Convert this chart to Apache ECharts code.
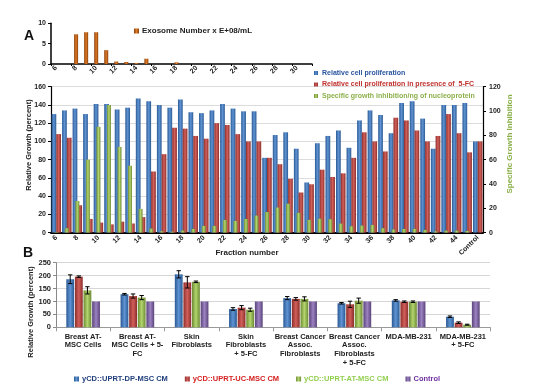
<!DOCTYPE html>
<html><head><meta charset="utf-8">
<script src="https://cdn.jsdelivr.net/npm/echarts@6/dist/echarts.min.js"></script>
<style>html,body{margin:0;padding:0;background:#fff}#c{width:558px;height:389px}</style>
</head><body><div id="c"></div><script>
// ---- Panel A (top): exosome numbers ----
const exoFractions = ['6','7','8','9','10','11','12','13','14','15','16','17','18','19','20','21','22','23','24','25','26','27','28','29','30','31'];
const exoNumber = [0,0,7.3,7.8,7.8,3.4,0.6,0.5,0.25,1.3,0,0,0.4,0,0,0,0,0,0,0,0,0,0,0,0,0];

// ---- Panel A (main) ----
const fractions = ['6','7','8','9','10','11','12','13','14','15','16','17','18','19','20','21','22','23','24','25','26','27','28','29','30','31','32','33','34','35','36','37','38','39','40','41','42','43','44','45','Control'];
const relProlif = [130,134,136,130,141,141,135,137,147,144,140,137,146,132,131,134,141,136,133,133,82,107,110,92,55,98,106,112,93,123,134,129,109,142,144,125,92,140,140,142,100];
const relProlif5FC = [108,104,30,15,11,9,12,10,17,67,86,115,114,106,103,120,118,108,100,100,82,75,59,44,53,69,61,65,82,110,100,89,126,123,112,100,106,130,109,88,100];
const specInhib = [0.4,3.6,26,60,87,105,70.5,55,19.5,3.3,1.1,0.8,1.7,3,5.5,5.5,10.4,9.6,11.2,14,16.9,20.6,23.8,16.3,10.5,11.4,11,7.4,5.2,5.8,6.3,3.6,2.5,3,3,2.2,1,1.6,1.6,1.4,0];

// ---- Panel B ----
const cellTypes = ['Breast AT-\nMSC Cells','Breast AT-\nMSC Cells + 5-\nFC','Skin\nFibroblasts','Skin\nFibroblasts\n+ 5-FC','Breast Cancer\nAssoc.\nFibroblasts','Breast Cancer\nAssoc.\nFibroblasts\n+ 5-FC','MDA-MB-231','MDA-MB-231\n+ 5-FC'];
const dpMSC = [186,128,205,71,113,93,104,41];
const ucMSC = [196,121,174,76,110,89,99,18];
const atMSC = [143,115,176,68,110,103,99,10];
const ctrl = [100,100,100,100,100,100,100,100];
const errDP = [17,3,14,5,6,3,3,3];
const errUC = [3,8,22,8,5,12,3,3];
const errAT = [14,8,3,6,8,10,3,2];

const FONT = '"Liberation Sans", Arial, sans-serif';
function grad(edge, mid){
  return {type:'linear',x:0,y:0,x2:1,y2:0,colorStops:[{offset:0,color:edge},{offset:0.5,color:mid},{offset:1,color:edge}]};
}
const cBlue = grad('#2b5a94','#5f93d3');
const cRed = grad('#8c2e2b','#d25f5a');
const cGreen = grad('#6d8a33','#b3d56e');
const cPurple = grad('#5a4479','#9c82c2');
const cOrange = grad('#8a400c','#dd7a26');

const lbl = (size)=>({fontFamily:FONT,fontWeight:'bold',fontSize:size,color:'#222'});

const errData = [];
[[dpMSC,errDP],[ucMSC,errUC],[atMSC,errAT]].forEach((pair,s)=>{
  pair[0].forEach((v,i)=>errData.push([i,v,pair[1][i],s]));
});
function errRender(params, api){
  const i = api.value(0), v = api.value(1), e = api.value(2), s = api.value(3);
  const catW = api.size([1,0])[0];
  const groupW = catW*0.62, w = groupW/4.3;
  const base = api.coord([i, v]);
  const x = base[0] - groupW/2 + w/2 + s*w*1.1;
  const yt = api.coord([i, v+e])[1], yb = api.coord([i, v-e])[1];
  const cap = 2.2, st = {stroke:'#000', lineWidth:1};
  return {type:'group', children:[
    {type:'line', shape:{x1:x,y1:yt,x2:x,y2:yb}, style:st},
    {type:'line', shape:{x1:x-cap,y1:yt,x2:x+cap,y2:yt}, style:st},
    {type:'line', shape:{x1:x-cap,y1:yb,x2:x+cap,y2:yb}, style:st}
  ]};
}

const chart = echarts.init(document.getElementById('c'), null, {renderer:'canvas'});
const option = {
  animation:false,
  backgroundColor:'#fff',
  grid:[
    {left:51, top:23.3, width:261, height:40.7},
    {left:51, top:86.7, width:432, height:145.9},
    {left:56, top:262.7, width:434, height:64.6}
  ],
  legend:[
    {data:['Exosome Number x E+08/mL'], left:134, top:27, itemWidth:5, itemHeight:5, icon:'rect', padding:0,
     textStyle:{fontFamily:FONT,fontWeight:'bold',fontSize:8,color:'#222',padding:[0,0,0,-2]}},
    {data:[
      {name:'Relative cell proliferation', textStyle:{color:'#2a55a0'}},
      {name:'Relative cell proliferation in presence of  5-FC', textStyle:{color:'#c0302c'}},
      {name:'Specific growth inhibition/ng of nucleoprotein', textStyle:{color:'#8cb04a'}}
     ], orient:'vertical', left:314, top:69.5, itemWidth:4, itemHeight:4, itemGap:4.5, icon:'rect', padding:0,
     textStyle:{fontFamily:FONT,fontWeight:'bold',fontSize:7,padding:[0,0,0,-1]}},
    {data:[
      {name:'yCD::UPRT-DP-MSC CM', textStyle:{color:'#1f3e7c'}},
      {name:'yCD::UPRT-UC-MSC CM', textStyle:{color:'#d42020'}},
      {name:'yCD::UPRT-AT-MSC CM', textStyle:{color:'#92d050'}},
      {name:'Control', textStyle:{color:'#7030a0'}}
     ], left:74, top:375, itemWidth:5, itemHeight:5, itemGap:17, icon:'rect', padding:0,
     textStyle:{fontFamily:FONT,fontWeight:'bold',fontSize:7.5,padding:[0,0,0,-2]}}
  ],
  xAxis:[
    {type:'category', gridIndex:0, data:exoFractions,
     axisLine:{lineStyle:{color:'#000',width:1.5}}, axisTick:{show:true,length:2,lineStyle:{color:'#000'}},
     axisLabel:Object.assign(lbl(7),{rotate:45,interval:1,margin:3})},
    {type:'category', gridIndex:1, data:fractions,
     axisLine:{lineStyle:{color:'#000',width:2}}, axisTick:{show:false},
     axisLabel:Object.assign(lbl(7),{rotate:45,interval:1,margin:4})},
    {type:'category', gridIndex:1, data:fractions, show:false},
    {type:'category', gridIndex:2, data:cellTypes,
     axisLine:{lineStyle:{color:'#999'}}, axisTick:{show:true,length:4,lineStyle:{color:'#999'}},
     axisLabel:Object.assign(lbl(7.5),{interval:0,margin:5,lineHeight:8.7})}
  ],
  yAxis:[
    {type:'value', gridIndex:0, min:0, max:10, interval:5,
     axisLine:{show:true,lineStyle:{color:'#000',width:1.5}}, axisTick:{show:true,length:3,lineStyle:{color:'#000'}},
     splitLine:{show:false}, axisLabel:Object.assign(lbl(7),{margin:5})},
    {type:'value', gridIndex:1, min:0, max:160, interval:20,
     axisLine:{show:true,lineStyle:{color:'#000',width:1.2}}, axisTick:{show:true,length:3,lineStyle:{color:'#000'}},
     splitLine:{lineStyle:{color:'#dcdcdc'}}, axisLabel:Object.assign(lbl(7),{margin:5})},
    {type:'value', gridIndex:1, position:'right', min:0, max:120, interval:20,
     axisLine:{show:true,lineStyle:{color:'#000',width:1.2}}, axisTick:{show:true,length:3,lineStyle:{color:'#000'}},
     splitLine:{show:false}, axisLabel:Object.assign(lbl(7),{margin:6})},
    {type:'value', gridIndex:2, min:0, max:250, interval:50,
     axisLine:{show:true,lineStyle:{color:'#888'}}, axisTick:{show:true,length:3,lineStyle:{color:'#888'}},
     splitLine:{lineStyle:{color:'#d6d6d6'}}, axisLabel:Object.assign(lbl(7.5),{margin:5})}
  ],
  graphic:[
    {type:'text', left:24, top:29, style:{text:'A', font:'bold 14px '+FONT, fill:'#111'}},
    {type:'text', left:23, top:246, style:{text:'B', font:'bold 14px '+FONT, fill:'#111'}},
    {type:'text', x:247, y:253, style:{text:'Fraction number', font:'bold 8px '+FONT, fill:'#222', textAlign:'center', textVerticalAlign:'middle'}},
    {type:'text', x:29, y:145, rotation:Math.PI/2, style:{text:'Relative Growth (percent)', font:'bold 7.5px '+FONT, fill:'#222', textAlign:'center', textVerticalAlign:'middle'}},
    {type:'text', x:510, y:144, rotation:Math.PI/2, style:{text:'Specific Growth Inhibition', font:'bold 8px '+FONT, fill:'#8cb04a', textAlign:'center', textVerticalAlign:'middle'}},
    {type:'text', x:30.5, y:312, rotation:Math.PI/2, style:{text:'Relative Growth (percent)', font:'bold 7.5px '+FONT, fill:'#222', textAlign:'center', textVerticalAlign:'middle'}}
  ],
  series:[
    {name:'Exosome Number x E+08/mL', type:'bar', xAxisIndex:0, yAxisIndex:0, data:exoNumber, barWidth:'40%', itemStyle:{color:cOrange}},
    {name:'Relative cell proliferation', type:'bar', xAxisIndex:1, yAxisIndex:1, data:relProlif, barCategoryGap:'10%', barGap:'0%', itemStyle:{color:cBlue}},
    {name:'Relative cell proliferation in presence of  5-FC', type:'bar', xAxisIndex:1, yAxisIndex:1, data:relProlif5FC, itemStyle:{color:cRed}},
    {name:'Specific growth inhibition/ng of nucleoprotein', type:'bar', xAxisIndex:2, yAxisIndex:2, data:specInhib, barWidth:'38%', itemStyle:{color:cGreen}},
    {name:'yCD::UPRT-DP-MSC CM', type:'bar', xAxisIndex:3, yAxisIndex:3, data:dpMSC, barCategoryGap:'38%', barGap:'10%', itemStyle:{color:cBlue}},
    {name:'yCD::UPRT-UC-MSC CM', type:'bar', xAxisIndex:3, yAxisIndex:3, data:ucMSC, itemStyle:{color:cRed}},
    {name:'yCD::UPRT-AT-MSC CM', type:'bar', xAxisIndex:3, yAxisIndex:3, data:atMSC, itemStyle:{color:cGreen}},
    {name:'Control', type:'bar', xAxisIndex:3, yAxisIndex:3, data:ctrl, itemStyle:{color:cPurple}},
    {name:'errors', type:'custom', xAxisIndex:3, yAxisIndex:3, data:errData, renderItem:errRender, encode:{x:0,y:1}, z:5, silent:true}
  ]
};
chart.setOption(option);
</script></body></html>
